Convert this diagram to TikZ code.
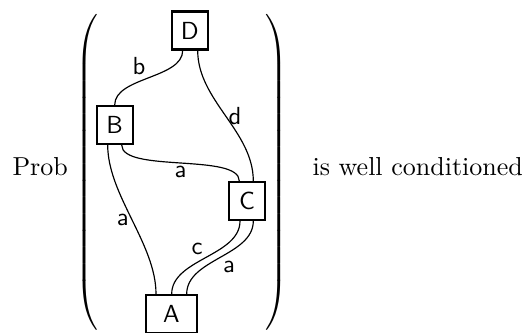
\documentclass[tikz,border=0pt]{standalone}
\usetikzlibrary{calc}
\begin{document}
\begin{tikzpicture}[x=0.3846pt,y=-0.3846pt,
  box/.style={draw, line width=0.8pt, minimum width=13.85pt, minimum height=14.6pt, inner sep=0pt, font=\sffamily\fontsize{9.5}{11}\selectfont},
  wire/.style={line width=0.45pt},
  lbl/.style={font=\sffamily\fontsize{9.5}{11}\selectfont, inner sep=1pt},
  txt/.style={inner sep=0pt, anchor=base west},
  paren/.style={inner sep=0pt, yscale=1.067}]
\useasboundingbox (0,0) rectangle (528,333);
\node[txt] (prob) at (12,176) {Prob};
\node[txt] (wc) at (312,176) {is well conditioned};
\node[paren, anchor=base west] (lp) at (75,179.5) {$\left(\vrule height 56pt depth 56pt width 0pt\right.$};
\node[paren, anchor=base east] (rp) at (289,179.5) {$\left.\vrule height 56pt depth 56pt width 0pt\right)$};
\node[box] (D) at (189.7,30.5) {D};
\node[box] (B) at (114.7,125) {B};
\node[box] (C) at (247,201) {C};
\node[box, minimum width=19.6pt] (A) at (171.3,314) {A};
\draw[wire] ($(D.south)+(-7,0)$) .. controls ($(D.south)+(-7,28)$) and ($(B.north)+(0,-28)$) .. (B.north)
  node[pos=0.5, lbl, anchor=south east] (lb) {b};
\draw[wire] ($(D.south)+(8,0)$) .. controls ($(D.south)+(8,50)$) and ($(C.north)+(6.3,-50)$) .. ($(C.north)+(6.3,0)$)
  node[pos=0.5, lbl, anchor=west] (ld) {d};
\draw[wire] ($(B.south)+(7,0)$) .. controls ($(B.south)+(7,28)$) and ($(C.north)+(-7.7,-28)$) .. ($(C.north)+(-7.7,0)$)
  node[pos=0.5, lbl, anchor=north] (la1) {a};
\draw[wire] ($(B.south)+(-7,0)$) .. controls ($(B.south)+(-7,50)$) and ($(A.north)+(-15.3,-50)$) .. ($(A.north)+(-15.3,0)$)
  node[pos=0.5, lbl, anchor=east] (la2) {a};
\draw[wire] ($(C.south)+(-7,0)$) .. controls ($(C.south)+(-7,35)$) and ($(A.north)+(0.4,-35)$) .. ($(A.north)+(0.4,0)$)
  node[pos=0.5, lbl, anchor=south east] (lc) {c};
\draw[wire] ($(C.south)+(6.3,0)$) .. controls ($(C.south)+(6.3,35)$) and ($(A.north)+(15.4,-35)$) .. ($(A.north)+(15.4,0)$)
  node[pos=0.5, lbl, anchor=north west] (la3) {a};
\end{tikzpicture}
\end{document}
